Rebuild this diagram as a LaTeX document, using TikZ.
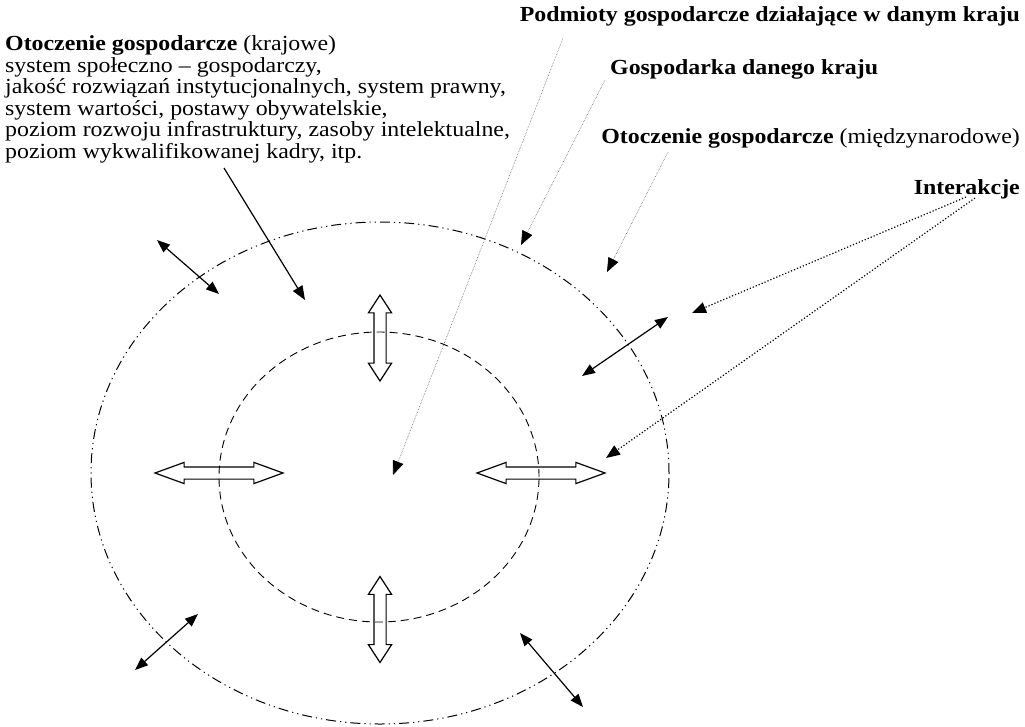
\documentclass[tikz,border=0pt]{standalone}
\usepackage{fontspec}
\setmainfont[FakeStretch=1.11]{Liberation Serif}
\usepackage{tikz}
\usetikzlibrary{shapes.geometric, shapes.arrows, arrows.meta}
\tikzstyle{pointer} = [line width=1.2pt,-{Triangle[length=14pt,width=11pt]}]
\tikzstyle{twoway} = [line width=1.2pt,{Triangle[length=13pt,width=10pt]}-{Triangle[length=13pt,width=10pt]}]

\begin{document}
\begin{tikzpicture}[x=1pt, y=-1pt,
outerring/.style={ellipse, draw, line width=1pt, dash pattern=on 10pt off 4pt on 1.2pt off 4pt on 1.2pt off 4pt, minimum width=578pt, minimum height=502pt, inner sep=0pt},
innerring/.style={ellipse, draw, line width=0.9pt, dash pattern=on 8pt off 5pt, minimum width=320pt, minimum height=290pt, inner sep=0pt},
flowh/.style={double arrow, draw, line width=1.2pt, inner xsep=0pt, inner ysep=5.5pt, minimum height=128pt, double arrow head extend=4.5pt, double arrow tip angle=40},
flowv/.style={double arrow, draw, line width=1.2pt, inner xsep=0pt, inner ysep=5.5pt, minimum height=86pt, double arrow head extend=5.5pt, double arrow tip angle=66, rotate=90},
txt/.style={inner sep=0pt, font=\fontsize{21.5}{21.5}\selectfont},
leader/.style={draw=black!60, line width=0.6pt, densely dotted, -{Triangle[length=14pt,width=11pt,black]}},
linkline/.style={line width=1.2pt, dotted, -{Triangle[length=14pt,width=11pt]}},]
\useasboundingbox (0,0) rectangle (1025,726);
\node[outerring](outer) at (380,473){};
\node[innerring](inner) at (379,477){};
\node[flowv](flowtop) at (380,338){};
\node[flowv](flowbottom) at (380,619.5){};
\node[flowh](flowleft) at (219,473){};
\node[flowh](flowright) at (541,473){};
\node[txt, anchor=base west, align=left](domestic) at (5,158){\textbf{Otoczenie gospodarcze} (krajowe)\\
system społeczno – gospodarczy,\\
jakość rozwiązań instytucjonalnych, system prawny,\\
system wartości, postawy obywatelskie,\\
poziom rozwoju infrastruktury, zasoby intelektualne,\\
poziom wykwalifikowanej kadry, itp.};
\node[txt, anchor=base east](firms) at (1020,21){\textbf{Podmioty gospodarcze działające w danym kraju}};
\node[txt, anchor=base west](economy) at (610,74){\textbf{Gospodarka danego kraju}};
\node[txt, anchor=base east](foreign) at (1020,143){\textbf{Otoczenie gospodarcze} (międzynarodowe)};
\node[txt, anchor=base east](links) at (1020,194){\textbf{Interakcje}};
\coordinate (domesticend) at (224,168);
\coordinate (domestictip) at (305,300);
\coordinate (firmsend) at (563,38);
\coordinate (firmstip) at (393,475);
\coordinate (economyend) at (605,80);
\coordinate (economytip) at (521,245);
\coordinate (foreignend) at (668,152);
\coordinate (foreigntip) at (607,272);
\coordinate (linksend1) at (966,197);
\coordinate (linkstip1) at (692,313);
\coordinate (linksend2) at (975,198);
\coordinate (linkstip2) at (606,458);
\coordinate (nw1) at (157,240);
\coordinate (nw2) at (219,294);
\coordinate (ne1) at (582,376);
\coordinate (ne2) at (668,317);
\coordinate (sw1) at (135,670);
\coordinate (sw2) at (198,614);
\coordinate (se1) at (520,633);
\coordinate (se2) at (583,707);
\draw[pointer] (domesticend) -- (domestictip);
\draw[leader] (firmsend) -- (firmstip);
\draw[leader] (economyend) -- (economytip);
\draw[leader] (foreignend) -- (foreigntip);
\draw[linkline] (linksend1) -- (linkstip1);
\draw[linkline] (linksend2) -- (linkstip2);
\draw[twoway] (nw1) -- (nw2);
\draw[twoway] (ne1) -- (ne2);
\draw[twoway] (sw1) -- (sw2);
\draw[twoway] (se1) -- (se2);
\end{tikzpicture}
\end{document}
